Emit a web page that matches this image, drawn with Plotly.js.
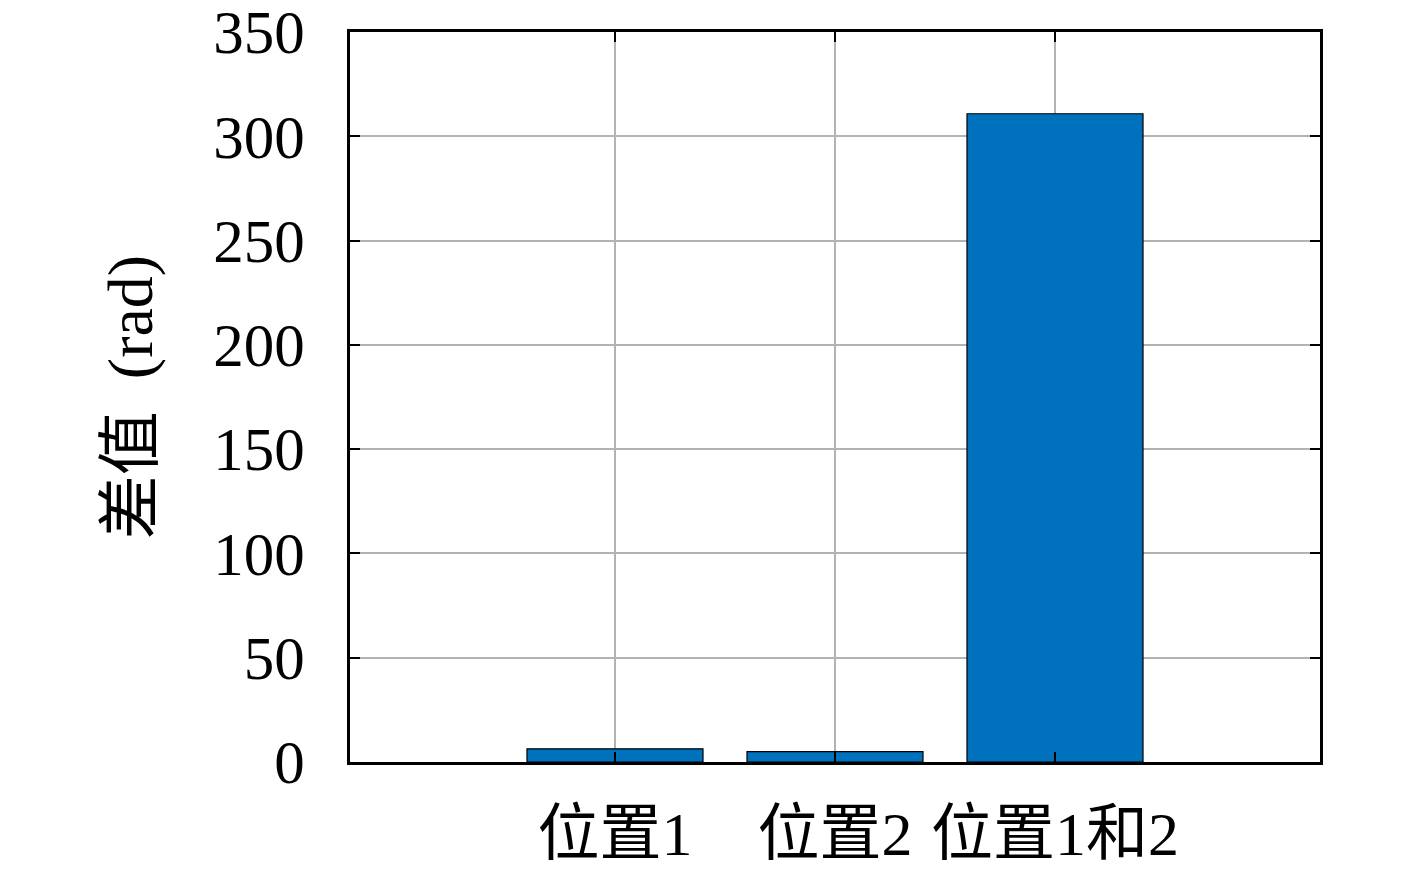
<!DOCTYPE html>
<html>
<head>
<meta charset="utf-8">
<script src="https://cdn.plot.ly/plotly-3.0.1.min.js"></script>
<style>
  html, body { margin: 0; padding: 0; background: #fff; }
  #chart { width: 1417px; height: 876px; }
</style>
</head>
<body>
<div id="chart"></div>
<script>
// categories and values
const positions = [1, 2, 3];
const categoryLabels = ['位置1', '位置2', '位置1和2'];
const diffValues = [6.3, 5.0, 310.8];
const yTicks = [0, 50, 100, 150, 200, 250, 300, 350];

const serif = '"Liberation Serif", "Noto Sans CJK SC", serif';

const barTrace = {
    type: 'bar',
    x: positions,
    y: diffValues,
    width: 0.8,
    marker: { color: '#0072BD', line: { color: '#000000', width: 1.2 } },
    hoverinfo: 'none'
};

const layout = {
    width: 1417, height: 876,
    margin: { l: 350, r: 97, t: 32, b: 114 },
    paper_bgcolor: '#ffffff', plot_bgcolor: '#ffffff',
    showlegend: false,
    font: { family: serif, color: '#000000', size: 60 },
    xaxis: {
        range: [-0.2045, 4.2045],
        tickvals: positions, ticktext: categoryLabels,
        tickfont: { family: serif, size: 62 },
        ticks: 'inside', ticklen: 10, tickwidth: 2, tickcolor: '#000',
        showgrid: true, gridcolor: '#b3b3b3', gridwidth: 2,
        showline: true, linecolor: '#000', linewidth: 3, mirror: 'ticks',
        zeroline: false, ticklabelstandoff: 16, ticklabeloverflow: 'allow'
    },
    yaxis: {
        range: [0, 350],
        tickvals: yTicks,
        tickfont: { family: serif, size: 61 },
        ticks: 'inside', ticklen: 10, tickwidth: 2, tickcolor: '#000',
        showgrid: true, gridcolor: '#b3b3b3', gridwidth: 2,
        showline: true, linecolor: '#000', linewidth: 3, mirror: 'ticks',
        zeroline: false, ticklabelstandoff: 30, ticklabeloverflow: 'allow',
        title: { text: '差值\u00a0\u00a0(rad)', font: { family: serif, size: 64 }, standoff: 40 }
    }
};

Plotly.newPlot('chart', [barTrace], layout, { displayModeBar: false, staticPlot: true });
</script>
</body>
</html>
